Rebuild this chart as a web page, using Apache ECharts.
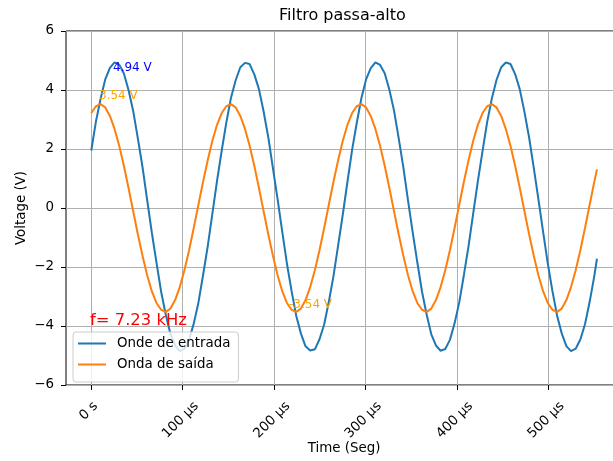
<!DOCTYPE html>
<html>
<head>
<meta charset="utf-8">
<script src="https://cdn.jsdelivr.net/npm/echarts@6/dist/echarts.min.js"></script>
<style>html,body{margin:0;padding:0;background:#fff}#c{width:613px;height:461px}</style>
</head>
<body>
<div id="c"></div>
<script>
// Time samples (µs)
var timeUs = [0, 5.1, 10.19, 15.29, 20.39, 25.48, 30.58, 35.67, 40.77, 45.87, 50.96, 56.06, 61.16, 66.25, 71.35, 76.45, 81.54, 86.64, 91.74, 96.83, 101.93, 107.02, 112.12, 117.22, 122.31, 127.41, 132.51, 137.6,
  142.7, 147.8, 152.89, 157.99, 163.09, 168.18, 173.28, 178.37, 183.47, 188.57, 193.66, 198.76, 203.86, 208.95, 214.05, 219.15, 224.24, 229.34, 234.44, 239.53, 244.63, 249.72, 254.82, 259.92, 265.01, 270.11, 275.21, 280.3,
  285.4, 290.5, 295.59, 300.69, 305.79, 310.88, 315.98, 321.07, 326.17, 331.27, 336.36, 341.46, 346.56, 351.65, 356.75, 361.85, 366.94, 372.04, 377.14, 382.23, 387.33, 392.42, 397.52, 402.62, 407.71, 412.81, 417.91, 423.0,
  428.1, 433.2, 438.29, 443.39, 448.49, 453.58, 458.68, 463.77, 468.87, 473.97, 479.06, 484.16, 489.26, 494.35, 499.45, 504.55, 509.64, 514.74, 519.84, 524.93, 530.03, 535.12, 540.22, 545.32, 550.41, 553.3];

// Input wave (V)
var entrada = [1.95, 2.93, 3.70, 4.36, 4.75, 4.94, 4.86, 4.56, 4.00, 3.29, 2.36, 1.39, 0.27, -0.83, -1.85, -2.84, -3.62, -4.27, -4.66, -4.85, -4.77, -4.47, -3.92, -3.21, -2.28, -1.30, -0.19, 0.92,
  1.94, 2.90, 3.74, 4.33, 4.77, 4.92, 4.88, 4.53, 4.03, 3.27, 2.40, 1.35, 0.30, -0.80, -1.88, -2.81, -3.65, -4.25, -4.69, -4.83, -4.79, -4.45, -3.95, -3.18, -2.31, -1.27, -0.22, 0.89,
  1.97, 2.89, 3.73, 4.36, 4.74, 4.94, 4.85, 4.57, 4.01, 3.30, 2.37, 1.38, 0.26, -0.82, -1.84, -2.83, -3.61, -4.28, -4.66, -4.84, -4.78, -4.47, -3.91, -3.20, -2.27, -1.29, -0.18, 0.91,
  1.93, 2.92, 3.71, 4.34, 4.77, 4.93, 4.88, 4.54, 4.02, 3.26, 2.39, 1.36, 0.29, -0.80, -1.87, -2.81, -3.64, -4.25, -4.68, -4.85, -4.77, -4.46, -3.94, -3.18, -2.30, -1.72];

// Output wave (V)
var saida = [3.22, 3.45, 3.52, 3.41, 3.12, 2.68, 2.11, 1.43, 0.68, -0.11, -0.89, -1.62, -2.28, -2.82, -3.22, -3.45, -3.52, -3.41, -3.12, -2.68, -2.11, -1.43, -0.68, 0.11, 0.89, 1.62, 2.28, 2.82,
  3.22, 3.45, 3.52, 3.41, 3.12, 2.68, 2.11, 1.43, 0.68, -0.11, -0.89, -1.62, -2.28, -2.82, -3.22, -3.45, -3.52, -3.41, -3.12, -2.68, -2.11, -1.43, -0.68, 0.11, 0.89, 1.62, 2.28, 2.82,
  3.22, 3.45, 3.52, 3.41, 3.12, 2.68, 2.11, 1.43, 0.68, -0.11, -0.89, -1.62, -2.28, -2.82, -3.22, -3.45, -3.52, -3.41, -3.12, -2.68, -2.11, -1.43, -0.68, 0.11, 0.89, 1.62, 2.28, 2.82,
  3.22, 3.45, 3.52, 3.41, 3.12, 2.68, 2.11, 1.43, 0.68, -0.11, -0.89, -1.62, -2.28, -2.82, -3.22, -3.45, -3.52, -3.41, -3.12, -2.68, -2.11, -1.43, -0.68, 0.11, 0.89, 1.31];

var xTicks = [0, 100, 200, 300, 400, 500];
var yTicks = [-6, -4, -2, 0, 2, 4, 6];
var seriesNames = ['Onde de entrada', 'Onda de saída'];
var titleText = 'Filtro passa-alto';
var freqText = 'f= 7.23 kHz';
var annMax = '4.94 V';
var annOutMax = '3.54 V';
var annOutMin = '-3.54 V';

var FONT = '"DejaVu Sans", sans-serif';
var FS = 13.4;
function pairs(vals) { return timeUs.map(function (t, i) { return [t, vals[i]]; }); }

var chart = echarts.init(document.getElementById('c'), null, { renderer: 'canvas' });
chart.setOption({
  animation: false,
  backgroundColor: '#ffffff',
  title: {
    text: titleText, left: 279, top: 8, padding: 0,
    textStyle: { fontFamily: FONT, fontSize: 16, fontWeight: 'normal', color: '#000' }
  },
  grid: {
    left: 66, top: 31, right: -9, bottom: 76,
    outerBoundsMode: 'none', containLabel: false,
    show: true, borderColor: '#000', borderWidth: 1, backgroundColor: 'transparent'
  },
  xAxis: {
    type: 'value', min: -27.65, max: 580.7,
    name: 'Time (Seg)', nameLocation: 'middle', nameGap: 57, nameMoveOverlap: false,
    nameTextStyle: { fontFamily: FONT, fontSize: FS, color: '#000' },
    axisLine: { show: false, onZero: false },
    axisTick: { show: true, length: 5, customValues: xTicks, lineStyle: { color: '#000', width: 1 } },
    axisLabel: {
      customValues: xTicks, rotate: 45, align: 'center', verticalAlign: 'middle', margin: 35,
      fontFamily: FONT, fontSize: FS, color: '#000',
      formatter: function (v) { return v === 0 ? '{z|0 s}' : '{n|' + v + ' µs}'; },
      rich: {
        z: { fontFamily: FONT, fontSize: FS, color: '#000', padding: [0, 0, 16, 9] },
        n: { fontFamily: FONT, fontSize: FS, color: '#000', padding: [0, 3, 3, 0] }
      }
    },
    splitLine: { show: true, lineStyle: { color: '#b0b0b0', width: 1 } }
  },
  yAxis: {
    type: 'value', min: -6, max: 6, interval: 2,
    name: 'Voltage (V)', nameLocation: 'middle', nameGap: 38, nameMoveOverlap: false,
    nameTextStyle: { fontFamily: FONT, fontSize: FS, color: '#000' },
    axisLine: { show: false, onZero: false },
    axisTick: { show: true, length: 5, lineStyle: { color: '#000', width: 1 } },
    axisLabel: {
      margin: 12, fontFamily: FONT, fontSize: FS, color: '#000',
      formatter: function (v) { return v < 0 ? '\u2212' + (-v) : String(v); }
    },
    splitLine: { show: true, lineStyle: { color: '#b0b0b0', width: 1 } }
  },
  legend: {
    orient: 'vertical', left: 73, top: 332,
    padding: [5, 8, 11, 5], itemWidth: 28, itemHeight: 2, itemGap: 8, icon: 'rect',
    backgroundColor: 'rgba(255,255,255,0.8)', borderColor: '#cccccc', borderWidth: 1, borderRadius: 3,
    textStyle: { fontFamily: FONT, fontSize: FS, color: '#000', padding: [0, 0, 0, 6] },
    data: seriesNames
  },
  series: [
    { name: seriesNames[0], type: 'line', data: pairs(entrada), symbol: 'none', color: '#1f77b4',
      lineStyle: { color: '#1f77b4', width: 2 } },
    { name: seriesNames[1], type: 'line', data: pairs(saida), symbol: 'none', color: '#ff7f0e',
      lineStyle: { color: '#ff7f0e', width: 2 } }
  ],
  graphic: [
    { type: 'text', x: 113, y: 68, z: 100, style: { text: annMax, fill: '#0000ff', fontFamily: FONT, fontSize: 12, verticalAlign: 'middle' } },
    { type: 'text', x: 99, y: 96, z: 100, style: { text: annOutMax, fill: '#ffa500', fontFamily: FONT, fontSize: 12, verticalAlign: 'middle' } },
    { type: 'text', x: 289, y: 305, z: 100, style: { text: annOutMin, fill: '#ffa500', fontFamily: FONT, fontSize: 12, verticalAlign: 'middle' } },
    { type: 'text', x: 90, y: 321, z: 100, style: { text: freqText, fill: '#ff0000', fontFamily: FONT, fontSize: 16.4, verticalAlign: 'middle' } }
  ]
});
</script>
</body>
</html>
